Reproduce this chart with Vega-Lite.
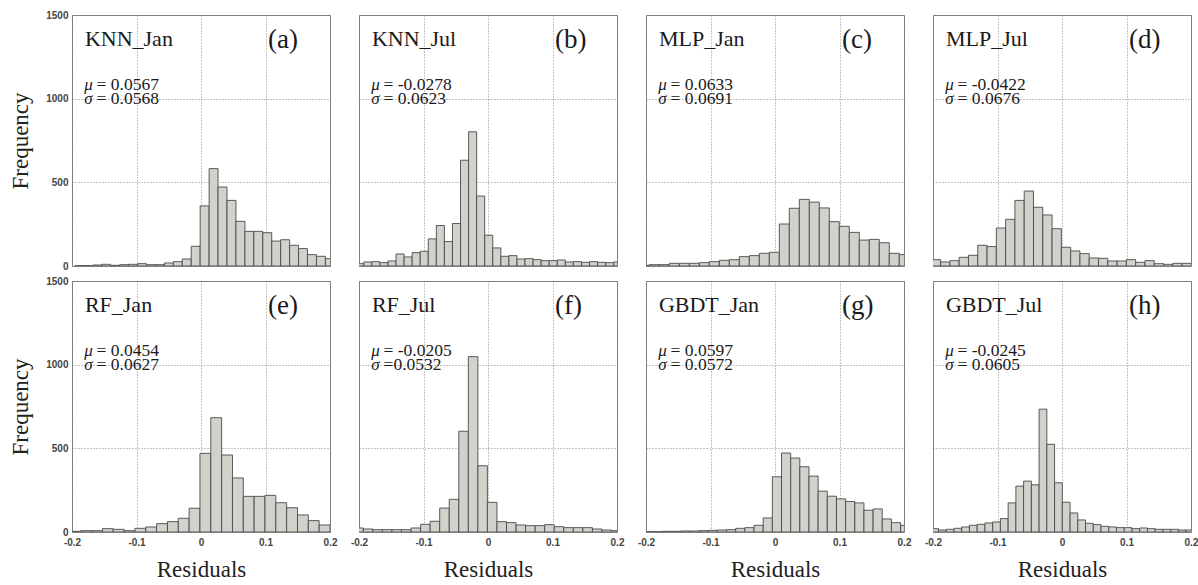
{
  "$schema": "https://vega.github.io/schema/vega-lite/v6.json",
  "background": "white",
  "padding": {"left": 9, "top": 10, "right": 5, "bottom": 3},
  "config": {
    "view": {"stroke": "#7a7a7a", "strokeWidth": 1},
    "font": "Liberation Serif",
    "header": {"labels": false, "title": null, "labelFontSize": 0, "labelPadding": 0, "titlePadding": 0},
    "axis": {
      "labelFont": "Liberation Sans", "labelFontSize": 10, "labelFontWeight": "bold", "labelColor": "#444",
      "titleFont": "Liberation Serif", "titleFontSize": 23, "titleFontWeight": "normal", "titleColor": "#222",
      "ticks": false, "tickSize": 0, "domain": false,
      "gridDash": [1, 2], "gridColor": "#8a8a8a", "gridOpacity": 1, "gridWidth": 1,
      "labelFlush": false, "labelOverlap": false, "labelBound": false
    },
    "axisX": {"labelPadding": 4, "titlePadding": 11},
    "axisY": {"labelPadding": 3, "titlePadding": 13}
  },
  "data": {"values": [
    {"p":"a","name":"KNN_Jan","tag":"(a)","mu":"= 0.0567","sd":"= 0.0568"},
    {"p":"b","name":"KNN_Jul","tag":"(b)","mu":"=  -0.0278","sd":"= 0.0623"},
    {"p":"c","name":"MLP_Jan","tag":"(c)","mu":"= 0.0633","sd":"= 0.0691"},
    {"p":"d","name":"MLP_Jul","tag":"(d)","mu":"= -0.0422","sd":"= 0.0676"},
    {"p":"e","name":"RF_Jan","tag":"(e)","mu":"= 0.0454","sd":"= 0.0627"},
    {"p":"f","name":"RF_Jul","tag":"(f)","mu":"= -0.0205","sd":"=0.0532"},
    {"p":"g","name":"GBDT_Jan","tag":"(g)","mu":"= 0.0597","sd":"= 0.0572"},
    {"p":"h","name":"GBDT_Jul","tag":"(h)","mu":"= -0.0245","sd":"= 0.0605"},

    {"p":"a","lo":-0.1955,"hi":-0.1816,"n":2},
    {"p":"a","lo":-0.1816,"hi":-0.1677,"n":2},
    {"p":"a","lo":-0.1677,"hi":-0.1539,"n":6},
    {"p":"a","lo":-0.1539,"hi":-0.1400,"n":10},
    {"p":"a","lo":-0.1400,"hi":-0.1261,"n":4},
    {"p":"a","lo":-0.1261,"hi":-0.1123,"n":8},
    {"p":"a","lo":-0.1123,"hi":-0.0984,"n":10},
    {"p":"a","lo":-0.0984,"hi":-0.0845,"n":14},
    {"p":"a","lo":-0.0845,"hi":-0.0707,"n":8},
    {"p":"a","lo":-0.0707,"hi":-0.0568,"n":8},
    {"p":"a","lo":-0.0568,"hi":-0.0429,"n":18},
    {"p":"a","lo":-0.0429,"hi":-0.0290,"n":26},
    {"p":"a","lo":-0.0290,"hi":-0.0152,"n":42},
    {"p":"a","lo":-0.0152,"hi":-0.0013,"n":118},
    {"p":"a","lo":-0.0013,"hi":0.0126,"n":359},
    {"p":"a","lo":0.0126,"hi":0.0264,"n":582},
    {"p":"a","lo":0.0264,"hi":0.0403,"n":472},
    {"p":"a","lo":0.0403,"hi":0.0542,"n":392},
    {"p":"a","lo":0.0542,"hi":0.0681,"n":267},
    {"p":"a","lo":0.0681,"hi":0.0819,"n":207},
    {"p":"a","lo":0.0819,"hi":0.0958,"n":207},
    {"p":"a","lo":0.0958,"hi":0.1097,"n":199},
    {"p":"a","lo":0.1097,"hi":0.1235,"n":149},
    {"p":"a","lo":0.1235,"hi":0.1374,"n":157},
    {"p":"a","lo":0.1374,"hi":0.1513,"n":124},
    {"p":"a","lo":0.1513,"hi":0.1651,"n":104},
    {"p":"a","lo":0.1651,"hi":0.1790,"n":68},
    {"p":"a","lo":0.1790,"hi":0.1929,"n":58},
    {"p":"a","lo":0.1929,"hi":0.2068,"n":44},

    {"p":"b","lo":-0.2051,"hi":-0.1926,"n":14},
    {"p":"b","lo":-0.1926,"hi":-0.1801,"n":24},
    {"p":"b","lo":-0.1801,"hi":-0.1676,"n":26},
    {"p":"b","lo":-0.1676,"hi":-0.1551,"n":20},
    {"p":"b","lo":-0.1551,"hi":-0.1426,"n":30},
    {"p":"b","lo":-0.1426,"hi":-0.1301,"n":72},
    {"p":"b","lo":-0.1301,"hi":-0.1176,"n":54},
    {"p":"b","lo":-0.1176,"hi":-0.1051,"n":80},
    {"p":"b","lo":-0.1051,"hi":-0.0926,"n":88},
    {"p":"b","lo":-0.0926,"hi":-0.0801,"n":162},
    {"p":"b","lo":-0.0801,"hi":-0.0676,"n":242},
    {"p":"b","lo":-0.0676,"hi":-0.0551,"n":146},
    {"p":"b","lo":-0.0551,"hi":-0.0426,"n":254},
    {"p":"b","lo":-0.0426,"hi":-0.0301,"n":632},
    {"p":"b","lo":-0.0301,"hi":-0.0176,"n":802},
    {"p":"b","lo":-0.0176,"hi":-0.0051,"n":418},
    {"p":"b","lo":-0.0051,"hi":0.0074,"n":184},
    {"p":"b","lo":0.0074,"hi":0.0199,"n":108},
    {"p":"b","lo":0.0199,"hi":0.0324,"n":58},
    {"p":"b","lo":0.0324,"hi":0.0449,"n":62},
    {"p":"b","lo":0.0449,"hi":0.0574,"n":42},
    {"p":"b","lo":0.0574,"hi":0.0699,"n":44},
    {"p":"b","lo":0.0699,"hi":0.0824,"n":38},
    {"p":"b","lo":0.0824,"hi":0.0949,"n":32},
    {"p":"b","lo":0.0949,"hi":0.1074,"n":32},
    {"p":"b","lo":0.1074,"hi":0.1199,"n":36},
    {"p":"b","lo":0.1199,"hi":0.1324,"n":24},
    {"p":"b","lo":0.1324,"hi":0.1449,"n":26},
    {"p":"b","lo":0.1449,"hi":0.1574,"n":22},
    {"p":"b","lo":0.1574,"hi":0.1699,"n":26},
    {"p":"b","lo":0.1699,"hi":0.1824,"n":22},
    {"p":"b","lo":0.1824,"hi":0.1949,"n":20},
    {"p":"b","lo":0.1949,"hi":0.2074,"n":24},

    {"p":"c","lo":-0.2103,"hi":-0.1948,"n":4},
    {"p":"c","lo":-0.1948,"hi":-0.1793,"n":8},
    {"p":"c","lo":-0.1793,"hi":-0.1638,"n":8},
    {"p":"c","lo":-0.1638,"hi":-0.1483,"n":16},
    {"p":"c","lo":-0.1483,"hi":-0.1328,"n":16},
    {"p":"c","lo":-0.1328,"hi":-0.1173,"n":16},
    {"p":"c","lo":-0.1173,"hi":-0.1018,"n":20},
    {"p":"c","lo":-0.1018,"hi":-0.0863,"n":26},
    {"p":"c","lo":-0.0863,"hi":-0.0708,"n":34},
    {"p":"c","lo":-0.0708,"hi":-0.0553,"n":38},
    {"p":"c","lo":-0.0553,"hi":-0.0398,"n":56},
    {"p":"c","lo":-0.0398,"hi":-0.0243,"n":62},
    {"p":"c","lo":-0.0243,"hi":-0.0088,"n":76},
    {"p":"c","lo":-0.0088,"hi":0.0067,"n":82},
    {"p":"c","lo":0.0067,"hi":0.0222,"n":251},
    {"p":"c","lo":0.0222,"hi":0.0377,"n":345},
    {"p":"c","lo":0.0377,"hi":0.0532,"n":398},
    {"p":"c","lo":0.0532,"hi":0.0687,"n":382},
    {"p":"c","lo":0.0687,"hi":0.0842,"n":347},
    {"p":"c","lo":0.0842,"hi":0.0997,"n":265},
    {"p":"c","lo":0.0997,"hi":0.1152,"n":237},
    {"p":"c","lo":0.1152,"hi":0.1307,"n":201},
    {"p":"c","lo":0.1307,"hi":0.1462,"n":155},
    {"p":"c","lo":0.1462,"hi":0.1617,"n":159},
    {"p":"c","lo":0.1617,"hi":0.1772,"n":139},
    {"p":"c","lo":0.1772,"hi":0.1927,"n":76},
    {"p":"c","lo":0.1927,"hi":0.2082,"n":68},

    {"p":"d","lo":-0.2026,"hi":-0.1882,"n":38},
    {"p":"d","lo":-0.1882,"hi":-0.1738,"n":24},
    {"p":"d","lo":-0.1738,"hi":-0.1594,"n":32},
    {"p":"d","lo":-0.1594,"hi":-0.1450,"n":52},
    {"p":"d","lo":-0.1450,"hi":-0.1306,"n":64},
    {"p":"d","lo":-0.1306,"hi":-0.1162,"n":124},
    {"p":"d","lo":-0.1162,"hi":-0.1018,"n":116},
    {"p":"d","lo":-0.1018,"hi":-0.0874,"n":227},
    {"p":"d","lo":-0.0874,"hi":-0.0730,"n":279},
    {"p":"d","lo":-0.0730,"hi":-0.0586,"n":392},
    {"p":"d","lo":-0.0586,"hi":-0.0442,"n":448},
    {"p":"d","lo":-0.0442,"hi":-0.0298,"n":351},
    {"p":"d","lo":-0.0298,"hi":-0.0154,"n":305},
    {"p":"d","lo":-0.0154,"hi":-0.0010,"n":223},
    {"p":"d","lo":-0.0010,"hi":0.0134,"n":112},
    {"p":"d","lo":0.0134,"hi":0.0278,"n":90},
    {"p":"d","lo":0.0278,"hi":0.0422,"n":74},
    {"p":"d","lo":0.0422,"hi":0.0566,"n":48},
    {"p":"d","lo":0.0566,"hi":0.0710,"n":46},
    {"p":"d","lo":0.0710,"hi":0.0854,"n":30},
    {"p":"d","lo":0.0854,"hi":0.0998,"n":30},
    {"p":"d","lo":0.0998,"hi":0.1142,"n":38},
    {"p":"d","lo":0.1142,"hi":0.1286,"n":22},
    {"p":"d","lo":0.1286,"hi":0.1430,"n":32},
    {"p":"d","lo":0.1430,"hi":0.1574,"n":14},
    {"p":"d","lo":0.1574,"hi":0.1718,"n":10},
    {"p":"d","lo":0.1718,"hi":0.1862,"n":16},
    {"p":"d","lo":0.1862,"hi":0.2006,"n":16},

    {"p":"e","lo":-0.2032,"hi":-0.1864,"n":4},
    {"p":"e","lo":-0.1864,"hi":-0.1696,"n":8},
    {"p":"e","lo":-0.1696,"hi":-0.1528,"n":8},
    {"p":"e","lo":-0.1528,"hi":-0.1360,"n":20},
    {"p":"e","lo":-0.1360,"hi":-0.1192,"n":16},
    {"p":"e","lo":-0.1192,"hi":-0.1024,"n":8},
    {"p":"e","lo":-0.1024,"hi":-0.0856,"n":22},
    {"p":"e","lo":-0.0856,"hi":-0.0688,"n":30},
    {"p":"e","lo":-0.0688,"hi":-0.0520,"n":50},
    {"p":"e","lo":-0.0520,"hi":-0.0352,"n":62},
    {"p":"e","lo":-0.0352,"hi":-0.0184,"n":82},
    {"p":"e","lo":-0.0184,"hi":-0.0016,"n":142},
    {"p":"e","lo":-0.0016,"hi":0.0152,"n":470},
    {"p":"e","lo":0.0152,"hi":0.0320,"n":683},
    {"p":"e","lo":0.0320,"hi":0.0488,"n":460},
    {"p":"e","lo":0.0488,"hi":0.0656,"n":323},
    {"p":"e","lo":0.0656,"hi":0.0824,"n":213},
    {"p":"e","lo":0.0824,"hi":0.0992,"n":213},
    {"p":"e","lo":0.0992,"hi":0.1160,"n":219},
    {"p":"e","lo":0.1160,"hi":0.1328,"n":175},
    {"p":"e","lo":0.1328,"hi":0.1496,"n":145},
    {"p":"e","lo":0.1496,"hi":0.1664,"n":102},
    {"p":"e","lo":0.1664,"hi":0.1832,"n":68},
    {"p":"e","lo":0.1832,"hi":0.2000,"n":42},

    {"p":"f","lo":-0.2081,"hi":-0.1933,"n":24},
    {"p":"f","lo":-0.1933,"hi":-0.1785,"n":18},
    {"p":"f","lo":-0.1785,"hi":-0.1637,"n":14},
    {"p":"f","lo":-0.1637,"hi":-0.1489,"n":14},
    {"p":"f","lo":-0.1489,"hi":-0.1341,"n":14},
    {"p":"f","lo":-0.1341,"hi":-0.1193,"n":14},
    {"p":"f","lo":-0.1193,"hi":-0.1045,"n":24},
    {"p":"f","lo":-0.1045,"hi":-0.0897,"n":46},
    {"p":"f","lo":-0.0897,"hi":-0.0749,"n":64},
    {"p":"f","lo":-0.0749,"hi":-0.0601,"n":143},
    {"p":"f","lo":-0.0601,"hi":-0.0453,"n":195},
    {"p":"f","lo":-0.0453,"hi":-0.0305,"n":602},
    {"p":"f","lo":-0.0305,"hi":-0.0157,"n":1048},
    {"p":"f","lo":-0.0157,"hi":-0.0009,"n":396},
    {"p":"f","lo":-0.0009,"hi":0.0139,"n":177},
    {"p":"f","lo":0.0139,"hi":0.0287,"n":62},
    {"p":"f","lo":0.0287,"hi":0.0435,"n":56},
    {"p":"f","lo":0.0435,"hi":0.0583,"n":42},
    {"p":"f","lo":0.0583,"hi":0.0731,"n":38},
    {"p":"f","lo":0.0731,"hi":0.0879,"n":38},
    {"p":"f","lo":0.0879,"hi":0.1027,"n":44},
    {"p":"f","lo":0.1027,"hi":0.1175,"n":32},
    {"p":"f","lo":0.1175,"hi":0.1323,"n":26},
    {"p":"f","lo":0.1323,"hi":0.1471,"n":26},
    {"p":"f","lo":0.1471,"hi":0.1619,"n":26},
    {"p":"f","lo":0.1619,"hi":0.1767,"n":18},
    {"p":"f","lo":0.1767,"hi":0.1915,"n":12},
    {"p":"f","lo":0.1915,"hi":0.2063,"n":8},

    {"p":"g","lo":-0.2029,"hi":-0.1887,"n":2},
    {"p":"g","lo":-0.1887,"hi":-0.1745,"n":2},
    {"p":"g","lo":-0.1745,"hi":-0.1603,"n":4},
    {"p":"g","lo":-0.1603,"hi":-0.1461,"n":4},
    {"p":"g","lo":-0.1461,"hi":-0.1319,"n":6},
    {"p":"g","lo":-0.1319,"hi":-0.1177,"n":6},
    {"p":"g","lo":-0.1177,"hi":-0.1035,"n":8},
    {"p":"g","lo":-0.1035,"hi":-0.0893,"n":10},
    {"p":"g","lo":-0.0893,"hi":-0.0751,"n":12},
    {"p":"g","lo":-0.0751,"hi":-0.0609,"n":14},
    {"p":"g","lo":-0.0609,"hi":-0.0467,"n":22},
    {"p":"g","lo":-0.0467,"hi":-0.0325,"n":26},
    {"p":"g","lo":-0.0325,"hi":-0.0183,"n":40},
    {"p":"g","lo":-0.0183,"hi":-0.0041,"n":84},
    {"p":"g","lo":-0.0041,"hi":0.0101,"n":330},
    {"p":"g","lo":0.0101,"hi":0.0243,"n":472},
    {"p":"g","lo":0.0243,"hi":0.0385,"n":442},
    {"p":"g","lo":0.0385,"hi":0.0527,"n":390},
    {"p":"g","lo":0.0527,"hi":0.0669,"n":334},
    {"p":"g","lo":0.0669,"hi":0.0811,"n":244},
    {"p":"g","lo":0.0811,"hi":0.0953,"n":214},
    {"p":"g","lo":0.0953,"hi":0.1095,"n":198},
    {"p":"g","lo":0.1095,"hi":0.1237,"n":182},
    {"p":"g","lo":0.1237,"hi":0.1379,"n":174},
    {"p":"g","lo":0.1379,"hi":0.1521,"n":130},
    {"p":"g","lo":0.1521,"hi":0.1663,"n":138},
    {"p":"g","lo":0.1663,"hi":0.1805,"n":78},
    {"p":"g","lo":0.1805,"hi":0.1947,"n":56},
    {"p":"g","lo":0.1947,"hi":0.2089,"n":40},

    {"p":"h","lo":-0.2035,"hi":-0.1915,"n":20},
    {"p":"h","lo":-0.1915,"hi":-0.1795,"n":12},
    {"p":"h","lo":-0.1795,"hi":-0.1675,"n":16},
    {"p":"h","lo":-0.1675,"hi":-0.1555,"n":22},
    {"p":"h","lo":-0.1555,"hi":-0.1435,"n":30},
    {"p":"h","lo":-0.1435,"hi":-0.1315,"n":40},
    {"p":"h","lo":-0.1315,"hi":-0.1195,"n":46},
    {"p":"h","lo":-0.1195,"hi":-0.1075,"n":54},
    {"p":"h","lo":-0.1075,"hi":-0.0955,"n":60},
    {"p":"h","lo":-0.0955,"hi":-0.0835,"n":80},
    {"p":"h","lo":-0.0835,"hi":-0.0715,"n":174},
    {"p":"h","lo":-0.0715,"hi":-0.0595,"n":274},
    {"p":"h","lo":-0.0595,"hi":-0.0475,"n":304},
    {"p":"h","lo":-0.0475,"hi":-0.0355,"n":282},
    {"p":"h","lo":-0.0355,"hi":-0.0235,"n":734},
    {"p":"h","lo":-0.0235,"hi":-0.0115,"n":524},
    {"p":"h","lo":-0.0115,"hi":0.0005,"n":294},
    {"p":"h","lo":0.0005,"hi":0.0125,"n":178},
    {"p":"h","lo":0.0125,"hi":0.0245,"n":114},
    {"p":"h","lo":0.0245,"hi":0.0365,"n":72},
    {"p":"h","lo":0.0365,"hi":0.0485,"n":52},
    {"p":"h","lo":0.0485,"hi":0.0605,"n":44},
    {"p":"h","lo":0.0605,"hi":0.0725,"n":34},
    {"p":"h","lo":0.0725,"hi":0.0845,"n":30},
    {"p":"h","lo":0.0845,"hi":0.0965,"n":26},
    {"p":"h","lo":0.0965,"hi":0.1085,"n":26},
    {"p":"h","lo":0.1085,"hi":0.1205,"n":20},
    {"p":"h","lo":0.1205,"hi":0.1325,"n":24},
    {"p":"h","lo":0.1325,"hi":0.1445,"n":20},
    {"p":"h","lo":0.1445,"hi":0.1565,"n":16},
    {"p":"h","lo":0.1565,"hi":0.1685,"n":16},
    {"p":"h","lo":0.1685,"hi":0.1805,"n":16},
    {"p":"h","lo":0.1805,"hi":0.1925,"n":12},
    {"p":"h","lo":0.1925,"hi":0.2045,"n":12}
  ]},
  "facet": {"field": "p", "type": "nominal", "header": {"labels": false, "title": null, "labelFontSize": 0, "labelPadding": 0, "labelExpr": "''"}},
  "columns": 4,
  "spacing": {"row": 13, "column": 27},
  "spec": {
    "width": 258,
    "height": 251,
    "layer": [
      {
        "transform": [{"filter": "isValid(datum.n)"}],
        "mark": {"type": "rect", "fill": "#d3d1cb", "stroke": "#4a4a4a", "strokeWidth": 0.9, "clip": true},
        "encoding": {
          "x": {"field": "lo", "type": "quantitative",
                "scale": {"domain": [-0.2, 0.2], "nice": false, "zero": false},
                "axis": {"title": "Residuals", "values": [-0.2, -0.1, 0, 0.1, 0.2],
                         "labelExpr": "datum.value == 0 ? '0' : (datum.value < 0 ? '-' + format(-datum.value, '.1f') : format(datum.value, '.1f'))"}},
          "x2": {"field": "hi"},
          "y": {"field": "n", "type": "quantitative",
                "scale": {"domain": [0, 1500], "nice": false},
                "axis": {"title": "Frequency", "values": [0, 500, 1000, 1500], "format": "d"}},
          "y2": {"datum": 0}
        }
      },
      {
        "transform": [{"filter": "isValid(datum.name)"}],
        "mark": {"type": "text", "align": "left", "baseline": "alphabetic", "font": "Liberation Serif", "fontSize": 22, "color": "#1a1a1a"},
        "encoding": {"x": {"datum": -0.18}, "y": {"datum": 1312}, "text": {"field": "name"}}
      },
      {
        "transform": [{"filter": "isValid(datum.name)"}],
        "mark": {"type": "text", "align": "left", "baseline": "alphabetic", "font": "Liberation Serif", "fontSize": 27, "color": "#1a1a1a"},
        "encoding": {"x": {"datum": 0.104}, "y": {"datum": 1300}, "text": {"field": "tag"}}
      },
      {
        "transform": [{"filter": "isValid(datum.name)"}],
        "mark": {"type": "text", "text": "μ", "align": "left", "baseline": "alphabetic", "font": "Liberation Serif", "fontStyle": "italic", "fontSize": 17, "color": "#1a1a1a"},
        "encoding": {"x": {"datum": -0.181}, "y": {"datum": 1050}}
      },
      {
        "transform": [{"filter": "isValid(datum.name)"}],
        "mark": {"type": "text", "align": "left", "baseline": "alphabetic", "font": "Liberation Serif", "fontSize": 17.5, "color": "#1a1a1a"},
        "encoding": {"x": {"datum": -0.162}, "y": {"datum": 1050}, "text": {"field": "mu"}}
      },
      {
        "transform": [{"filter": "isValid(datum.name)"}],
        "mark": {"type": "text", "text": "σ", "align": "left", "baseline": "alphabetic", "font": "Liberation Serif", "fontStyle": "italic", "fontSize": 17, "color": "#1a1a1a"},
        "encoding": {"x": {"datum": -0.181}, "y": {"datum": 966}}
      },
      {
        "transform": [{"filter": "isValid(datum.name)"}],
        "mark": {"type": "text", "align": "left", "baseline": "alphabetic", "font": "Liberation Serif", "fontSize": 17.5, "color": "#1a1a1a"},
        "encoding": {"x": {"datum": -0.162}, "y": {"datum": 966}, "text": {"field": "sd"}}
      }
    ]
  }
}
